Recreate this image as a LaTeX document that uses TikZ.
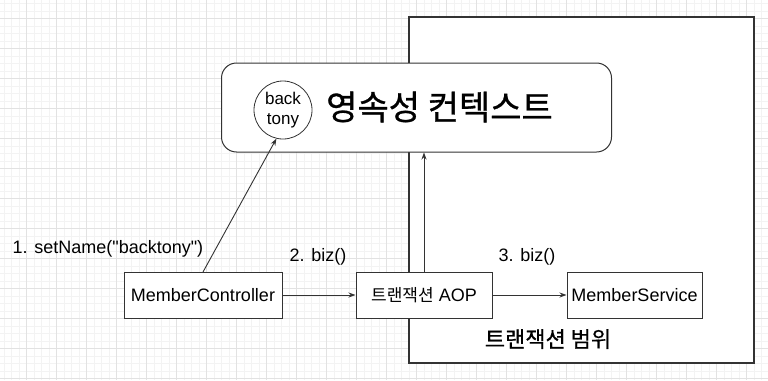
\documentclass[tikz,border=0pt]{standalone}
\usepackage{fontspec}
\setmainfont{Liberation Sans}[Ligatures=TeXOff]
\newfontfamily\kr[FakeBold=0.9]{Noto Sans CJK KR}
\newfontfamily\krm[FakeBold=0.5]{Noto Sans CJK KR}
\newfontfamily\krs{Noto Sans CJK KR}
\usetikzlibrary{arrows.meta,calc}
\definecolor{gridminor}{HTML}{F3F3F3}
\definecolor{gridmajor}{HTML}{E2E2E2}
\definecolor{lineg}{HTML}{333333}
\tikzset{
  box/.style={draw=lineg, line width=1pt, fill=white, minimum height=46pt, inner sep=0pt, font=\fontsize{18}{21}\selectfont},
  arr/.style={draw=lineg, line width=0.9pt, -{Stealth[length=7pt,width=5pt]}},
  lbl/.style={inner sep=0pt, font=\fontsize{18}{21}\selectfont},
}
\begin{document}
\begin{tikzpicture}[x=1pt,y=-1pt]
\useasboundingbox (0,0) rectangle (768,380);
\fill[white] (0,0) rectangle (768,380);
% grid
\foreach \i in {0,...,103} {
  \draw[gridminor, line width=0.5pt] ({-3.3+7.5*\i},0) -- ({-3.3+7.5*\i},380);
}
\foreach \i in {0,...,51} {
  \draw[gridminor, line width=0.5pt] (0,{-11.7+7.5*\i}) -- (768,{-11.7+7.5*\i});
}
\foreach \i in {0,...,26} {
  \draw[gridmajor, line width=0.7pt] ({-3.3+30*\i},0) -- ({-3.3+30*\i},380);
}
\foreach \i in {0,...,13} {
  \draw[gridmajor, line width=0.7pt] (0,{-11.7+30*\i}) -- (768,{-11.7+30*\i});
}
% transaction scope
\node[draw=lineg, line width=1.3pt, fill=white, minimum width=345pt, minimum height=346pt, inner sep=0pt] (scope) at (581.5,190) {};
\node[lbl, font=\krm\fontsize{22}{26}\selectfont] (scopelbl) at (548,339) {트랜잭션 범위};
% persistence context
\node[draw=lineg, line width=1pt, fill=white, rounded corners=15pt, minimum width=390pt, minimum height=89pt, inner sep=0pt] (pc) at (416.5,107.5) {};
\node[draw=lineg, line width=0.8pt, fill=white, circle, minimum size=58pt, inner sep=0pt, align=center, font=\fontsize{17}{20}\selectfont] (circ) at (283,110) {back\\tony};
\node[lbl, font=\kr\fontsize{34}{38}\selectfont] (pctext) at (439.5,107) {영속성 컨텍스트};
% boxes
\node[box, minimum width=158pt] (mc) at (203,295) {MemberController};
\node[box, minimum width=136pt] (aop) at (424,295) {{\krs\fontsize{17}{20}\selectfont 트랜잭션} AOP};
\node[box, minimum width=135pt] (ms) at (634.5,295) {MemberService};
% connectors
\coordinate (s1) at (203,272);
\draw[arr] (s1) -- (circ.257);
\draw[arr] (mc) -- (aop);
\draw[arr] (aop) -- (ms);
\draw[arr] (aop.north) -- (aop.north |- pc.south);
% labels
\node[lbl] (l1) at (108,249) {1. setName("backtony")};
\node[lbl] (l2) at (318,257) {2. biz()};
\node[lbl] (l3) at (527,257) {3. biz()};
\end{tikzpicture}
\end{document}
